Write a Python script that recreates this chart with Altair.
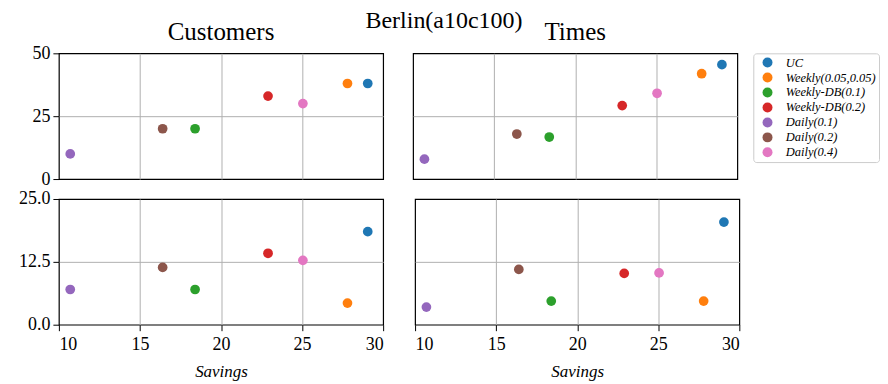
import altair as alt
import pandas as pd

methods = ["UC", "Weekly(0.05,0.05)", "Weekly-DB(0.1)", "Weekly-DB(0.2)",
           "Daily(0.1)", "Daily(0.2)", "Daily(0.4)"]
colors = ["#1f77b4", "#ff7f0e", "#2ca02c", "#d62728", "#9467bd", "#8c564b", "#e377c2"]
savings = [29.05, 27.8, 18.4, 22.9, 10.7, 16.4, 25.05]

customers_top = [38.0, 38.0, 20.0, 33.0, 10.0, 20.0, 30.0]
times_top = [45.5, 41.9, 16.7, 29.2, 7.9, 17.9, 34.1]
customers_bottom = [18.5, 4.3, 7.0, 14.2, 7.0, 11.4, 12.8]
times_bottom = [20.4, 4.7, 4.7, 10.2, 3.5, 11.0, 10.3]

FONT = "Liberation Serif"

def frame(vals):
    return pd.DataFrame({"method": methods, "savings": savings, "value": vals})

color_scale = alt.Scale(domain=methods, range=colors)

x_grid_op = {"condition": {"test": "datum.value == 10 || datum.value == 30", "value": 0}, "value": 1}

def y_grid_op(lo, hi):
    return {"condition": {"test": f"datum.value == {lo} || datum.value == {hi}", "value": 0}, "value": 1}

def panel(vals, ydomain, yticks, yfmt, show_x, show_y, title=None, title_offset=8):
    if show_x:
        xaxis = alt.Axis(values=[10, 15, 20, 25, 30], title="Savings", grid=True,
                         gridOpacity=x_grid_op,
                         titleFontStyle="italic", titleFontWeight="normal",
                         labelFontSize=18, titleFontSize=17, tickSize=6,
                         domain=False, labelPadding=5, titlePadding=10)
    else:
        xaxis = alt.Axis(values=[10, 15, 20, 25, 30], title=None, grid=True,
                         gridOpacity=x_grid_op,
                         labels=False, ticks=False, domain=False,
                         minExtent=0, maxExtent=0)
    if show_y:
        yaxis = alt.Axis(values=yticks, format=yfmt, title=None, grid=True,
                         gridOpacity=y_grid_op(ydomain[0], ydomain[1]),
                         labelFontSize=18, tickSize=6, domain=False,
                         labelPadding=3, minExtent=50)
    else:
        yaxis = alt.Axis(values=yticks, title=None, grid=True, labels=False,
                         gridOpacity=y_grid_op(ydomain[0], ydomain[1]),
                         ticks=False, domain=False, minExtent=0, maxExtent=0)
    ch = alt.Chart(frame(vals)).mark_circle(size=95, opacity=1).encode(
        x=alt.X("savings:Q", scale=alt.Scale(domain=[10, 30], nice=False), axis=xaxis),
        y=alt.Y("value:Q", scale=alt.Scale(domain=ydomain, nice=False), axis=yaxis),
        color=alt.Color("method:N", scale=color_scale,
                        legend=alt.Legend(title=None, orient="right", offset=12,
                                          labelFontStyle="italic", labelFontSize=12.5,
                                          symbolSize=100, symbolType="circle",
                                          symbolOffset=5, labelOffset=12,
                                          rowPadding=2, strokeColor="#cccccc",
                                          fillColor="white", cornerRadius=3,
                                          padding=3)),
    ).properties(width=325, height=126)
    if title:
        ch = ch.properties(title=alt.TitleParams(title, fontSize=25, font=FONT,
                                                 fontWeight="normal",
                                                 offset=title_offset,
                                                 frame="group"))
    return ch

tl = panel(customers_top, [0, 50], [0, 25, 50], "d", False, True, "Customers", -1)
tr = panel(times_top, [0, 50], [0, 25, 50], "d", False, False, "Times", 8)
bl = panel(customers_bottom, [0, 25], [0, 12.5, 25], ".1f", True, True)
br = panel(times_bottom, [0, 25], [0, 12.5, 25], ".1f", True, False)

chart = alt.vconcat(
    alt.hconcat(tl, tr, spacing=28),
    alt.hconcat(bl, br, spacing=28),
    spacing=0,
    title=alt.TitleParams("Berlin(a10c100)", fontSize=24, font=FONT,
                          fontWeight="normal", offset=-13, anchor="middle"),
).properties(padding=0).configure(font=FONT).configure_view(
    stroke="black", strokeWidth=1.2
).configure_axis(
    gridColor="#b0b0b0", gridWidth=1, tickColor="black", labelColor="black",
    labelFont=FONT, titleFont=FONT, titleColor="black"
).configure_legend(labelFont=FONT, labelColor="black")

chart.save("out.html", embed_options={"renderer": "svg", "actions": False})
